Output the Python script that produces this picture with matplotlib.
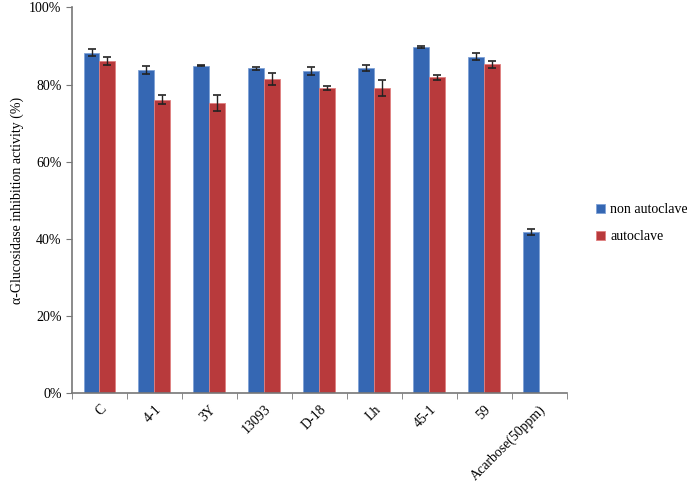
import matplotlib
matplotlib.use("Agg")
import matplotlib.pyplot as plt
import numpy as np
from matplotlib.ticker import FuncFormatter

categories = ["C", "4-1", "3Y", "13093", "D-18", "Lh", "45-1", "59", "Acarbose(50ppm)"]
non_autoclave = [88.3, 83.7, 84.9, 84.2, 83.5, 84.2, 89.7, 87.2, 41.7]
non_autoclave_err = [1.0, 1.0, 0.2, 0.3, 1.0, 0.8, 0.2, 0.9, 0.8]
autoclave = [86.1, 76.1, 75.2, 81.5, 79.1, 79.1, 81.9, 85.2]
autoclave_err = [1.0, 1.2, 2.0, 1.5, 0.6, 2.2, 0.6, 0.9]
series_names = ["non autoclave", "autoclave"]

plt.rcParams['font.family'] = ['Liberation Serif', 'DejaVu Serif']

fig = plt.figure(figsize=(6.87, 4.82), dpi=100)
ax = fig.add_axes([0.1048, 0.1846, 0.720, 0.800])

x = np.arange(len(categories))
w = 0.29
blue = "#3567b3"
red = "#b83a3c"
ax.bar(x[:len(non_autoclave)] - w/2, non_autoclave, w, yerr=non_autoclave_err,
       color=blue, edgecolor="#7fa2d6", linewidth=0.6, label=series_names[0],
       error_kw=dict(ecolor="#222222", elinewidth=1.0, capsize=3, capthick=1.2))
ax.bar(x[:len(autoclave)] + w/2, autoclave, w, yerr=autoclave_err,
       color=red, edgecolor="#e08080", linewidth=0.6, label=series_names[1],
       error_kw=dict(ecolor="#222222", elinewidth=1.0, capsize=3, capthick=1.2))

ax.set_xlim(-0.5, len(categories) - 0.5)
ax.set_ylim(0, 100)
ax.set_yticks([0, 20, 40, 60, 80, 100])
ax.yaxis.set_major_formatter(FuncFormatter(lambda v, p: f"{int(v)}%"))
ax.set_xticks(x)
ax.set_xticklabels(categories, rotation=45, ha="right", rotation_mode="anchor", fontsize=10)
ax.tick_params(axis="x", length=0, pad=7)
ax.set_xticks(np.arange(len(categories) + 1) - 0.5, minor=True)
ax.tick_params(axis="x", which="minor", length=4, color="#777777")
ax.tick_params(axis="y", labelsize=10, length=4, color="#777777")
for s in ["top", "right"]:
    ax.spines[s].set_visible(False)
for s in ["left", "bottom"]:
    ax.spines[s].set_color("#777777")
    ax.spines[s].set_linewidth(1.2)

ax.set_ylabel("α-Glucosidase inhibition activity (%)", fontsize=10)

ax.legend(loc="center left", bbox_to_anchor=(1.035, 0.44), frameon=False,
          fontsize=10, handlelength=0.6, handleheight=0.6, labelspacing=1.0,
          handletextpad=0.4)

fig.savefig("out.png", dpi=100)
